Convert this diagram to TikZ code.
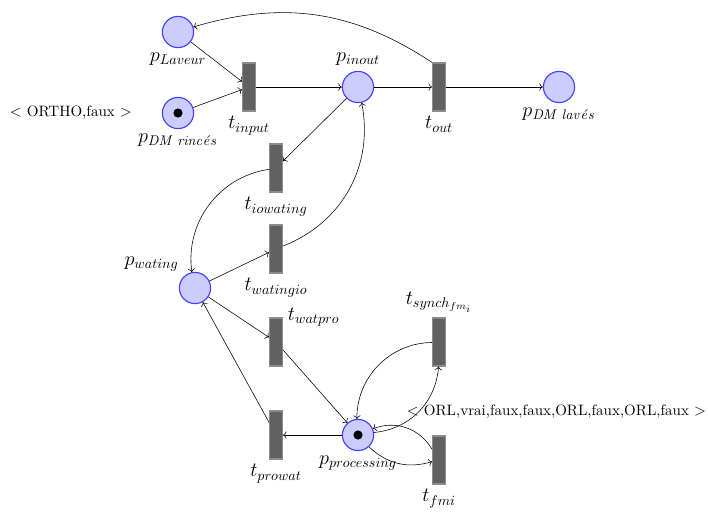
\documentclass[tikz,border=0pt]{standalone}
\usepackage{tikz}
\usetikzlibrary{arrows.meta,petri}
\tikzset{lieu/.style={circle,draw=blue!75,fill=blue!20,thick,minimum size=7.8mm,inner sep=0pt},trans/.style={rectangle,draw=black!45,fill=black!62,thick,minimum width=3.2mm,minimum height=12mm,inner sep=0pt},arc/.style={->},every token/.style={minimum size=2.3mm},every label/.style={font=\Large},marque/.style={font=\fontsize{10.7}{13}\selectfont}}

\begin{document}
\begin{tikzpicture}
\useasboundingbox (0,0) rectangle (17.7,-12.775);
\node[lieu,label=below:$p_{\mathit{DM\;rinc\acute{e}s}}$,tokens=1] (princes) at (4.45,-2.825) {};
\node[lieu,label=below:$p_{Laveur}$] (plaveur) at (4.45,-0.8) {};
\node[trans,label=below:$t_{input}$] (tinput) at (6.225,-2.175) {};
\node[lieu,label=above:$p_{inout}$] (pinout) at (8.95,-2.175) {};
\node[trans,label=below:$t_{out}$] (tout) at (10.975,-2.175) {};
\node[lieu,label=below:$p_{\mathit{DM\;lav\acute{e}s}}$] (plaves) at (13.975,-2.175) {};
\node[trans,label=below:$t_{iowating}$] (tiowating) at (6.9,-4.2) {};
\node[trans,label=below:$t_{watingio}$] (twatingio) at (6.9,-6.225) {};
\node[lieu,label=above left:$p_{wating}$] (pwating) at (4.875,-7.2) {};
\node[trans,label={[anchor=west]north east:$t_{watpro}$}] (twatpro) at (6.9,-8.55) {};
\node[trans,label=below:$t_{prowat}$] (tprowat) at (6.9,-10.875) {};
\node[lieu,tokens=1,label=below:$p_{processing}$] (pprocessing) at (8.95,-10.875) {};
\node[trans,label=above:$t_{synch_{fm_i}}$] (tsynch) at (10.975,-8.55) {};
\node[trans,label=below:$t_{fmi}$] (tfmi) at (10.975,-11.5) {};
\node[marque,anchor=east] (marqortho) at (3.42,-2.825) {$<$ ORTHO,faux $>$};
\node[marque,anchor=west] (marqorl) at (10.05,-10.3) {$<$ ORL,vrai,faux,faux,ORL,faux,ORL,faux $>$};
\draw[arc] (plaveur) -- (tinput);
\draw[arc] (princes) -- (tinput);
\draw[arc] (tinput) -- (pinout);
\draw[arc] (pinout) -- (tout);
\draw[arc] (tout) -- (plaves);
\draw[arc] (tout.north west) to[bend right=25] (plaveur);
\draw[arc] (pinout) -- (tiowating);
\draw[arc] (tiowating) to[bend right=45] (pwating);
\draw[arc] (pwating) -- (twatingio);
\draw[arc] (twatingio) to[bend right=40] (pinout);
\draw[arc] (pwating) -- (twatpro);
\draw[arc] (twatpro) -- (pprocessing);
\draw[arc] (pprocessing) -- (tprowat);
\draw[arc] (tprowat) -- (pwating);
\draw[arc] (tsynch) to[bend right=45] (pprocessing);
\draw[arc] (pprocessing) to[bend right=40] (tsynch);
\draw[arc] (tfmi) to[bend right=40] (pprocessing);
\draw[arc] (pprocessing) to[bend right=30] (tfmi);
\end{tikzpicture}
\end{document}
